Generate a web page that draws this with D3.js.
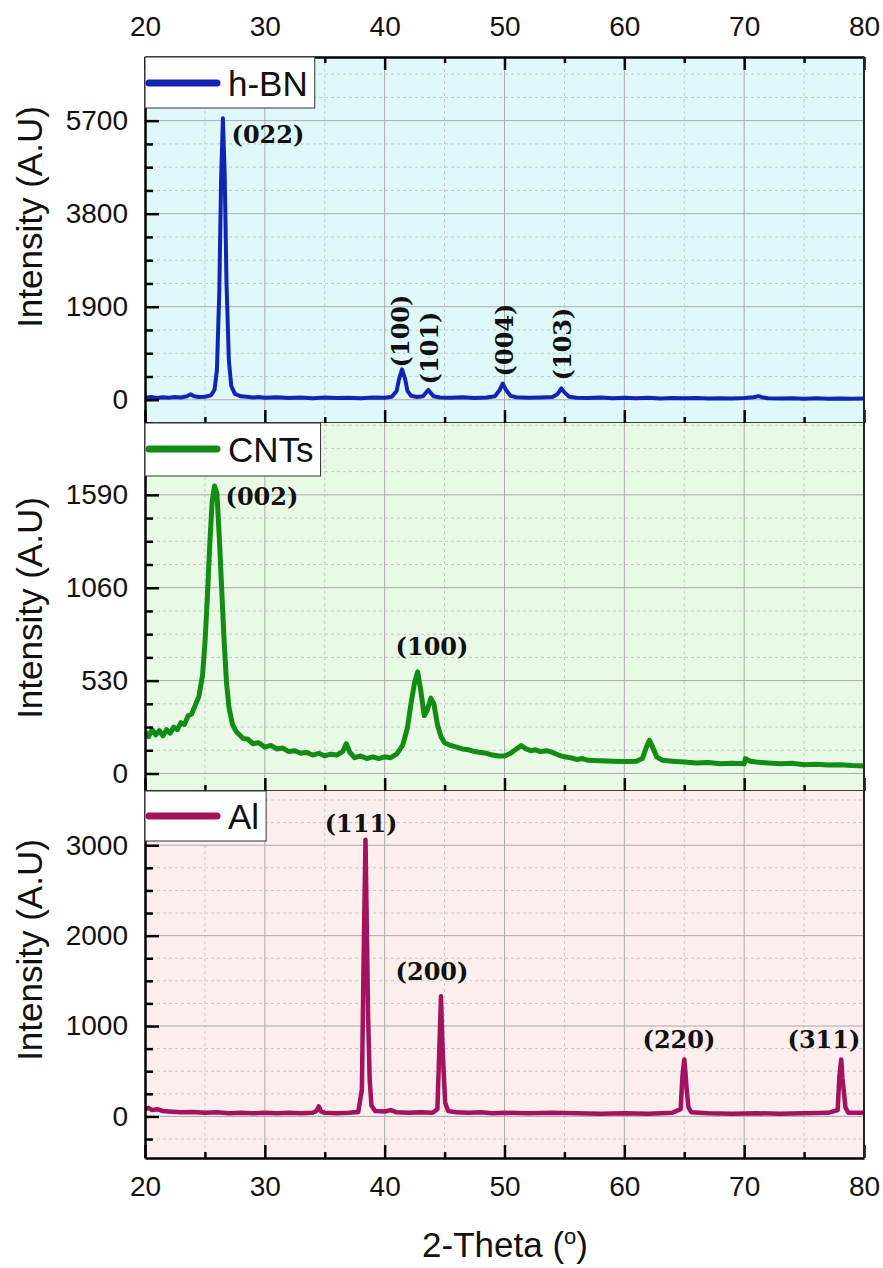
<!DOCTYPE html>
<html>
<head>
<meta charset="utf-8">
<script src="https://cdn.jsdelivr.net/npm/d3@7"></script>
<style>
body { margin: 0; background: #fff; }
svg text { font-family: "Liberation Sans", Arial, sans-serif; fill: #111; }
.peak { font-family: "DejaVu Serif", serif; font-weight: bold; font-size: 24px; }
</style>
</head>
<body>
<svg id="chart" width="883" height="1268"></svg>
<script>
// ---- data ----
var xTicks = [20, 30, 40, 50, 60, 70, 80];
var xMinor = [25, 35, 45, 55, 65, 75];

var hbnTicks = [0, 1900, 3800, 5700];
var cntTicks = [0, 530, 1060, 1590];
var alTicks = [0, 1000, 2000, 3000];

// [2-theta, intensity]
var hbnPoints = [
  [20, 40], [20.5, 55], [21, 35], [21.5, 50], [22, 40], [22.5, 55], [23, 45], [23.5, 70], [23.8, 110], [24.1, 70],
  [24.5, 55], [25, 60], [25.5, 90], [25.8, 200], [26.0, 600], [26.2, 2200], [26.35, 4500], [26.5, 5750], [26.65, 4600],
  [26.8, 2400], [27.0, 800], [27.2, 280], [27.5, 120], [28, 70], [28.5, 60], [29, 45], [29.5, 55], [30, 40], [31, 50],
  [32, 35], [33, 45], [34, 30], [35, 45], [36, 35], [37, 40], [38, 30], [39, 45], [40, 40], [40.6, 60], [41.0, 180],
  [41.2, 420], [41.45, 620], [41.7, 430], [41.9, 180], [42.2, 80], [42.7, 55], [43.2, 70], [43.5, 160], [43.65, 200],
  [43.8, 150], [44.1, 70], [44.6, 45], [45.5, 40], [46.5, 50], [47.5, 35], [48.5, 45], [49.2, 70], [49.6, 200],
  [49.85, 330], [50.1, 210], [50.5, 80], [51, 50], [52, 40], [53, 45], [54, 55], [54.4, 110], [54.75, 230], [55.0, 150],
  [55.4, 60], [56, 40], [57, 35], [58, 45], [59, 30], [60, 40], [61, 30], [62, 40], [63, 25], [64, 35], [65, 30],
  [66, 35], [67, 25], [68, 30], [69, 25], [70, 35], [70.8, 50], [71.2, 75], [71.6, 45], [72, 30], [73, 25], [74, 30],
  [75, 20], [76, 30], [77, 20], [78, 25], [79, 20], [80, 25]
];

var cntPoints = [
  [20, 240], [20.3, 210], [20.6, 250], [20.9, 220], [21.2, 245], [21.5, 215], [21.8, 250], [22.1, 230], [22.4, 265],
  [22.7, 250], [23.0, 290], [23.3, 280], [23.6, 330], [23.9, 340], [24.2, 390], [24.5, 440], [24.8, 560], [25.0, 740],
  [25.2, 1000], [25.4, 1300], [25.6, 1550], [25.8, 1640], [26.0, 1600], [26.2, 1350], [26.4, 1050], [26.6, 760],
  [26.8, 520], [27.0, 380], [27.3, 280], [27.6, 240], [27.9, 220], [28.2, 200], [28.6, 195], [29.0, 170], [29.5, 175],
  [30.0, 150], [30.5, 160], [31.0, 140], [31.5, 145], [32.0, 125], [32.5, 130], [33.0, 115], [33.5, 120], [34.0, 105],
  [34.5, 115], [35.0, 100], [35.5, 110], [36.0, 105], [36.5, 125], [36.8, 170], [37.1, 120], [37.5, 90], [38.0, 100],
  [38.5, 85], [39.0, 95], [39.5, 85], [40.0, 95], [40.5, 90], [41.0, 110], [41.5, 160], [41.9, 260], [42.2, 400],
  [42.5, 520], [42.75, 580], [43.0, 480], [43.3, 330], [43.55, 360], [43.85, 430], [44.1, 400], [44.4, 280],
  [44.7, 210], [45.0, 175], [45.5, 160], [46.0, 150], [46.5, 140], [47.0, 135], [47.5, 125], [48.0, 120], [48.5, 115],
  [49.0, 105], [49.5, 100], [50.0, 100], [50.5, 115], [51.0, 140], [51.4, 160], [51.8, 140], [52.2, 130], [52.6, 135],
  [53.0, 125], [53.5, 130], [54.0, 120], [54.5, 105], [55.0, 95], [55.5, 90], [56.0, 80], [56.5, 85], [57.0, 75],
  [58.0, 72], [59.0, 70], [60.0, 68], [61.0, 70], [61.5, 85], [61.9, 160], [62.1, 190], [62.3, 160], [62.7, 95],
  [63.2, 75], [64, 70], [65, 65], [66, 60], [67, 62], [68, 55], [69, 58], [70.0, 55], [70.1, 85], [70.5, 70], [71, 65],
  [72, 60], [73, 55], [74, 58], [75, 50], [76, 52], [77, 48], [78, 50], [79, 45], [80, 42]
];

var alPoints = [
  [20, 80], [20.3, 95], [20.6, 70], [21, 80], [21.5, 60], [22, 55], [23, 45], [24, 50], [25, 40], [26, 45], [27, 35],
  [28, 40], [29, 35], [30, 40], [31, 35], [32, 40], [33, 35], [34, 40], [34.3, 60], [34.5, 110], [34.7, 55], [35, 40],
  [36, 35], [37, 40], [37.8, 50], [38.1, 300], [38.25, 1800], [38.4, 3060], [38.52, 2000], [38.62, 1100], [38.75, 400],
  [38.9, 120], [39.2, 60], [40, 55], [40.5, 70], [41, 45], [42, 40], [43, 45], [44, 40], [44.4, 80], [44.55, 700],
  [44.7, 1330], [44.82, 800], [44.92, 500], [45.05, 150], [45.3, 60], [46, 45], [47, 40], [48, 45], [49, 35], [50, 40],
  [52, 35], [54, 40], [56, 35], [58, 30], [60, 35], [62, 30], [64, 40], [64.7, 80], [64.85, 450], [65.0, 630],
  [65.1, 480], [65.2, 300], [65.35, 100], [65.6, 45], [67, 35], [69, 30], [71, 35], [73, 30], [75, 35], [77, 40],
  [77.8, 70], [77.95, 450], [78.1, 630], [78.2, 420], [78.3, 300], [78.45, 100], [78.7, 40], [80, 40]
];

// peak labels: text, anchor [2-theta, intensity]
var hbnLabels = ['(022)', '(100)', '(101)', '(004)', '(103)'];
var hbnLabelAt = [[30.26, 5244], [42.03, 1404], [44.45, 1057], [50.71, 1220], [55.55, 1138]];
var hbnLabelRotated = [false, true, true, true, true];
var cntLabels = ['(002)', '(100)'];
var cntLabelAt = [[29.76, 1532], [43.95, 676]];
var alLabels = ['(111)', '(200)', '(220)', '(311)'];
var alLabelAt = [[38.03, 3146], [43.95, 1509], [64.56, 757], [76.66, 757]];

// ---- layout ----
var svg = d3.select('#chart');
var left = 145, right = 864;
var xScale = d3.scaleLinear().domain([20, 80]).range([left, right]);
var fmt = d3.format('d');

var panels = [
  {name: 'h-BN', points: hbnPoints, ticks: hbnTicks, minor: 475, domain: [-475, 7000], top: 57, bottom: 423,
   color: '#1224b4', bg: '#dff9fb', width: 4, labels: hbnLabels, labelAt: hbnLabelAt, rot: hbnLabelRotated, titleY: 217},
  {name: 'CNTs', points: cntPoints, ticks: cntTicks, minor: 132.5, domain: [-100, 2000], top: 423, bottom: 791,
   color: '#128c14', bg: '#e8fae5', width: 5, labels: cntLabels, labelAt: cntLabelAt, rot: null, titleY: 608},
  {name: 'Al', points: alPoints, ticks: alTicks, minor: 250, domain: [-460, 3600], top: 791, bottom: 1158,
   color: '#a3125e', bg: '#fdeeee', width: 4.5, labels: alLabels, labelAt: alLabelAt, rot: null, titleY: 950}
];

var defs = svg.append('defs');

panels.forEach(function(p, i) {
  var yScale = d3.scaleLinear().domain(p.domain).range([p.bottom, p.top]);
  var g = svg.append('g');

  g.append('rect')
    .attr('x', left).attr('y', p.top)
    .attr('width', right - left).attr('height', p.bottom - p.top)
    .attr('fill', p.bg);

  // minor grid (dashed)
  var minorVals = [];
  var start = Math.ceil(p.domain[0] / p.minor) * p.minor;
  for (var v = start; v < p.domain[1]; v += p.minor) {
    if (p.ticks.indexOf(Math.round(v * 10) / 10) < 0) minorVals.push(v);
  }
  g.append('g').selectAll('line').data(minorVals).enter().append('line')
    .attr('x1', left).attr('x2', right)
    .attr('y1', function(d) { return yScale(d); }).attr('y2', function(d) { return yScale(d); })
    .attr('stroke', '#c8c8c8').attr('stroke-width', 1).attr('stroke-dasharray', '3,3');
  g.append('g').selectAll('line').data(xMinor).enter().append('line')
    .attr('x1', function(d) { return xScale(d); }).attr('x2', function(d) { return xScale(d); })
    .attr('y1', p.top).attr('y2', p.bottom)
    .attr('stroke', '#c8c8c8').attr('stroke-width', 1).attr('stroke-dasharray', '3,3');

  // major grid
  g.append('g').selectAll('line').data(p.ticks).enter().append('line')
    .attr('x1', left).attr('x2', right)
    .attr('y1', function(d) { return yScale(d); }).attr('y2', function(d) { return yScale(d); })
    .attr('stroke', '#ababab').attr('stroke-width', 1);
  g.append('g').selectAll('line').data(xTicks.slice(1, -1)).enter().append('line')
    .attr('x1', function(d) { return xScale(d); }).attr('x2', function(d) { return xScale(d); })
    .attr('y1', p.top).attr('y2', p.bottom)
    .attr('stroke', '#ababab').attr('stroke-width', 1);

  // data line
  defs.append('clipPath').attr('id', 'clip' + i)
    .append('rect').attr('x', left).attr('y', p.top)
    .attr('width', right - left).attr('height', p.bottom - p.top);

  var line = d3.line()
    .x(function(d) { return xScale(d[0]); })
    .y(function(d) { return yScale(d[1]); });

  g.append('path')
    .datum(p.points)
    .attr('clip-path', 'url(#clip' + i + ')')
    .attr('d', line)
    .attr('fill', 'none')
    .attr('stroke', p.color)
    .attr('stroke-width', p.width)
    .attr('stroke-linejoin', 'round');

  // peak labels
  p.labels.forEach(function(t, k) {
    var px = xScale(p.labelAt[k][0]), py = yScale(p.labelAt[k][1]);
    var lab = g.append('text').attr('class', 'peak').attr('text-anchor', 'middle').text(t);
    if (p.rot && p.rot[k]) {
      lab.attr('transform', 'translate(' + [px, py] + ') rotate(-90)');
    } else {
      lab.attr('x', px).attr('y', py);
    }
  });

  // left axis with inward ticks
  var yAxis = g.append('g').attr('transform', 'translate(' + left + ',0)')
    .call(d3.axisLeft(yScale).tickValues(p.ticks).tickFormat(fmt).tickSize(-14).tickSizeOuter(0).tickPadding(17));
  yAxis.selectAll('text').attr('font-size', 28).attr('font-family', '"Liberation Sans", Arial, sans-serif').attr('fill', '#1a1a1a');
  yAxis.selectAll('line').attr('stroke-width', 2.5);
  yAxis.select('.domain').attr('stroke-width', 2.5);

  var yMinor = g.append('g').attr('transform', 'translate(' + left + ',0)')
    .call(d3.axisLeft(yScale).tickValues(minorVals).tickSize(-8).tickSizeOuter(0).tickFormat(''));
  yMinor.selectAll('line').attr('stroke-width', 2.5);
  yMinor.select('.domain').remove();

  // bottom axis with inward ticks
  var xb = d3.axisBottom(xScale).tickValues(xTicks).tickFormat(fmt).tickSize(-13).tickSizeOuter(0).tickPadding(18);
  if (i < panels.length - 1) xb.tickFormat('');
  var xAxis = g.append('g').attr('transform', 'translate(0,' + p.bottom + ')').call(xb);
  xAxis.selectAll('text').attr('font-size', 28).attr('font-family', '"Liberation Sans", Arial, sans-serif').attr('fill', '#1a1a1a');
  xAxis.selectAll('line').attr('stroke-width', 2.5);
  xAxis.select('.domain').attr('stroke-width', 2.5);
  var xbMinor = g.append('g').attr('transform', 'translate(0,' + p.bottom + ')')
    .call(d3.axisBottom(xScale).tickValues(xMinor).tickSize(-6).tickFormat(''));
  xbMinor.selectAll('line').attr('stroke-width', 2.5);
  xbMinor.select('.domain').remove();

  // top axis on the first panel
  if (i === 0) {
    var xTop = g.append('g').attr('transform', 'translate(0,' + p.top + ')')
      .call(d3.axisTop(xScale).tickValues(xTicks).tickFormat(fmt).tickSize(-13).tickSizeOuter(0).tickPadding(21));
    xTop.selectAll('text').attr('font-size', 28).attr('font-family', '"Liberation Sans", Arial, sans-serif').attr('fill', '#1a1a1a');
    xTop.selectAll('line').attr('stroke-width', 2.5);
    xTop.select('.domain').attr('stroke-width', 2.5);
    var xTopMinor = g.append('g').attr('transform', 'translate(0,' + p.top + ')')
      .call(d3.axisTop(xScale).tickValues(xMinor).tickSize(-6).tickFormat(''));
    xTopMinor.selectAll('line').attr('stroke-width', 2.5);
    xTopMinor.select('.domain').remove();
  }

  // right border
  g.append('line')
    .attr('x1', right).attr('x2', right).attr('y1', p.top).attr('y2', p.bottom)
    .attr('stroke', '#222').attr('stroke-width', 2);

  // legend
  var leg = g.append('g');
  var box = leg.append('rect')
    .attr('x', left).attr('y', p.top)
    .attr('height', i === 2 ? 50 : (i === 1 ? 53 : 51))
    .attr('fill', '#fff').attr('stroke', '#333').attr('stroke-width', 1);
  var ly = p.top + (i === 2 ? 25 : 26);
  leg.append('line')
    .attr('x1', left + 4).attr('x2', left + 72).attr('y1', ly).attr('y2', ly)
    .attr('stroke', p.color).attr('stroke-width', 7).attr('stroke-linecap', 'round');
  var lt = leg.append('text')
    .attr('x', left + 83).attr('y', ly + 13)
    .attr('font-size', 35)
    .text(p.name);
  box.attr('width', 83 + lt.node().getComputedTextLength() + 7);

  // y title
  svg.append('text')
    .attr('transform', 'translate(42,' + p.titleY + ') rotate(-90)')
    .attr('text-anchor', 'middle')
    .attr('font-size', 35)
    .text('Intensity (A.U)');
});

// x title
var xt = svg.append('text')
  .attr('x', 505).attr('y', 1257)
  .attr('text-anchor', 'middle')
  .attr('font-size', 35)
  .text('2-Theta (');
xt.append('tspan').attr('font-size', 22).attr('dy', -13).text('o');
xt.append('tspan').attr('dy', 13).text(')');
</script>
</body>
</html>
